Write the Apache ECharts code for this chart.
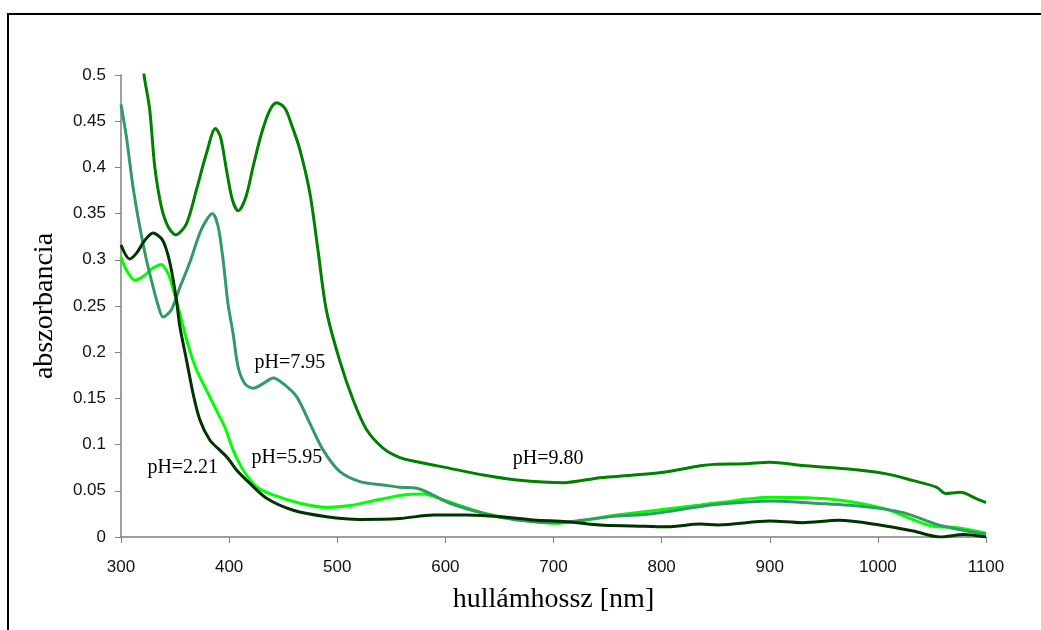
<!DOCTYPE html>
<html>
<head>
<meta charset="utf-8">
<script src="https://cdn.jsdelivr.net/npm/echarts@6/dist/echarts.min.js"></script>
<style>
  html, body { margin: 0; padding: 0; background: #fff; }
  #chart { width: 1041px; height: 630px; }
</style>
</head>
<body>
<div id="chart"></div>
<script>
// spectra: [wavelength nm, absorbance]
const ph980 = [[315,0.56],[321.3,0.500],[326.6,0.462],[331.2,0.401],[337.4,0.357],[343.5,0.336],[350.6,0.327],[360.5,0.339],[369.8,0.376],[379,0.415],[387.4,0.442],[392,0.433],[397.6,0.397],[403,0.365],[408.4,0.353],[415.5,0.368],[422.2,0.401],[430,0.437],[437.7,0.462],[443.9,0.470],[451.6,0.464],[457.8,0.446],[465.5,0.419],[474.7,0.372],[482,0.312],[490,0.245],[502.5,0.19],[514.8,0.148],[527.2,0.116],[542.6,0.096],[558,0.086],[573.5,0.0815],[604.3,0.0743],[635.2,0.067],[666.1,0.0617],[709.3,0.0588],[743.2,0.0642],[774.1,0.067],[805,0.0707],[835.8,0.077],[848.8,0.0786],[876.9,0.0792],[900.2,0.081],[929.8,0.0774],[970.4,0.0738],[1007.8,0.0683],[1032.7,0.061],[1054.5,0.0538],[1062.3,0.0472],[1076.4,0.0483],[1092,0.041],[1100,0.0373]]
const ph795 = [[300,0.468],[305,0.433],[311.1,0.379],[317.3,0.336],[323.5,0.300],[329.6,0.271],[334,0.252],[339,0.238],[346.6,0.246],[354.4,0.270],[363.6,0.297],[372.9,0.329],[379,0.343],[384.6,0.350],[389.8,0.336],[394.4,0.300],[399,0.252],[403.7,0.220],[408.3,0.184],[414.5,0.166],[422.2,0.161],[431.5,0.166],[440.7,0.172],[450,0.166],[462.4,0.152],[474.7,0.123],[487,0.094],[502.5,0.0707],[521,0.060],[542.6,0.0563],[558,0.0538],[573.5,0.0527],[604.3,0.0365],[635.2,0.0256],[666.1,0.0184],[703.2,0.0155],[727.8,0.0184],[758.7,0.0227],[789.5,0.025],[835.8,0.033],[851.9,0.0355],[900.2,0.039],[945.5,0.0363],[989.1,0.0326],[1023.4,0.0264],[1054.5,0.0136],[1070,0.0093],[1100,0.003]]
const ph595 = [[300,0.303],[305,0.289],[312.7,0.278],[320.4,0.282],[329.6,0.291],[337.4,0.295],[343.5,0.285],[346.6,0.275],[352.8,0.249],[357.4,0.228],[363.6,0.202],[369.8,0.181],[379,0.159],[388.3,0.137],[396,0.119],[403.7,0.094],[413,0.0725],[425.4,0.0544],[440.7,0.0455],[465.5,0.0365],[490.2,0.032],[511.7,0.034],[536.4,0.040],[561.1,0.0455],[579.6,0.0465],[598.2,0.040],[635.2,0.026],[666.1,0.019],[703.2,0.015],[758.7,0.0238],[835.8,0.0346],[851.9,0.037],[900.2,0.0429],[961,0.0403],[1007.8,0.030],[1054.5,0.011],[1070,0.0105],[1100,0.004]]
const ph221 = [[300,0.316],[308,0.301],[314.2,0.307],[322,0.321],[329.6,0.329],[337.4,0.323],[342,0.311],[346.6,0.289],[351.3,0.256],[354.4,0.228],[360.5,0.192],[366.7,0.155],[372.9,0.127],[382.1,0.105],[391.4,0.094],[399,0.085],[406.8,0.0725],[419.2,0.058],[434.6,0.042],[459.3,0.029],[490.2,0.022],[521,0.019],[558,0.020],[588.9,0.0238],[619.8,0.0238],[650.6,0.022],[681.5,0.0184],[712.4,0.0166],[743.2,0.013],[774.1,0.012],[805,0.011],[835.8,0.014],[851.9,0.013],[900.2,0.0173],[929.8,0.0155],[964.2,0.018],[1001.6,0.013],[1032.7,0.0064],[1057.7,0.0],[1079.4,0.0027],[1100,0]]

const seriesNames = ['pH=9.80', 'pH=5.95', 'pH=7.95', 'pH=2.21']
const seriesData = [ph980, ph595, ph795, ph221]
const seriesColors = ['#008000', '#00ff00', '#339966', '#003300']
// where the pH label sits, in data units
const labelPos = [[695, 0.0844], [453.4, 0.0855], [456.2, 0.189], [357.1, 0.0747]]

const chart = echarts.init(document.getElementById('chart'))

const axisGray = '#808080'
const serif = 'Liberation Serif'
const sans = 'Liberation Sans'

chart.setOption({
  animation: false,
  backgroundColor: '#fff',
  graphic: [{
    type: 'rect',
    shape: { x: 8, y: 14, width: 1100, height: 700 },
    style: { fill: 'none', stroke: '#000', lineWidth: 2 },
    silent: true
  }],
  grid: {
    left: 121, right: 55, top: 75, bottom: 93,
    outerBoundsMode: 'none'
  },
  xAxis: {
    type: 'value',
    min: 300, max: 1100, interval: 100,
    name: 'hullámhossz [nm]',
    nameLocation: 'middle',
    nameGap: 49,
    nameTextStyle: { fontFamily: serif, fontSize: 28, color: '#000' },
    axisLine: { lineStyle: { color: axisGray, width: 1.5 } },
    axisTick: { show: true, length: 6, lineStyle: { color: axisGray } },
    axisLabel: {
      margin: 22, fontFamily: sans, fontSize: 17, color: '#111',
      formatter: v => String(v)
    },
    splitLine: { show: false }
  },
  yAxis: {
    type: 'value',
    min: 0, max: 0.5, interval: 0.05,
    name: 'abszorbancia',
    nameLocation: 'middle',
    nameGap: 62,
    nameTextStyle: { fontFamily: serif, fontSize: 28, color: '#000' },
    axisLine: { show: true, lineStyle: { color: axisGray, width: 1.5 } },
    axisTick: { show: true, length: 6, lineStyle: { color: axisGray } },
    axisLabel: {
      margin: 15, fontFamily: sans, fontSize: 17, color: '#111',
      formatter: v => String(Math.round(v * 100) / 100)
    },
    splitLine: { show: false }
  },
  series: seriesNames.map((name, i) => ({
    name: name,
    type: 'line',
    data: seriesData[i],
    smooth: 0.3,
    showSymbol: false,
    clip: true,
    lineStyle: { color: seriesColors[i], width: 3 },
    itemStyle: { color: seriesColors[i] },
    markPoint: {
      symbol: 'circle',
      symbolSize: 0,
      silent: true,
      label: {
        show: true,
        position: 'inside',
        formatter: name,
        fontFamily: serif,
        fontSize: 20,
        color: '#000'
      },
      data: [{ coord: labelPos[i] }]
    }
  }))
})
</script>
</body>
</html>
